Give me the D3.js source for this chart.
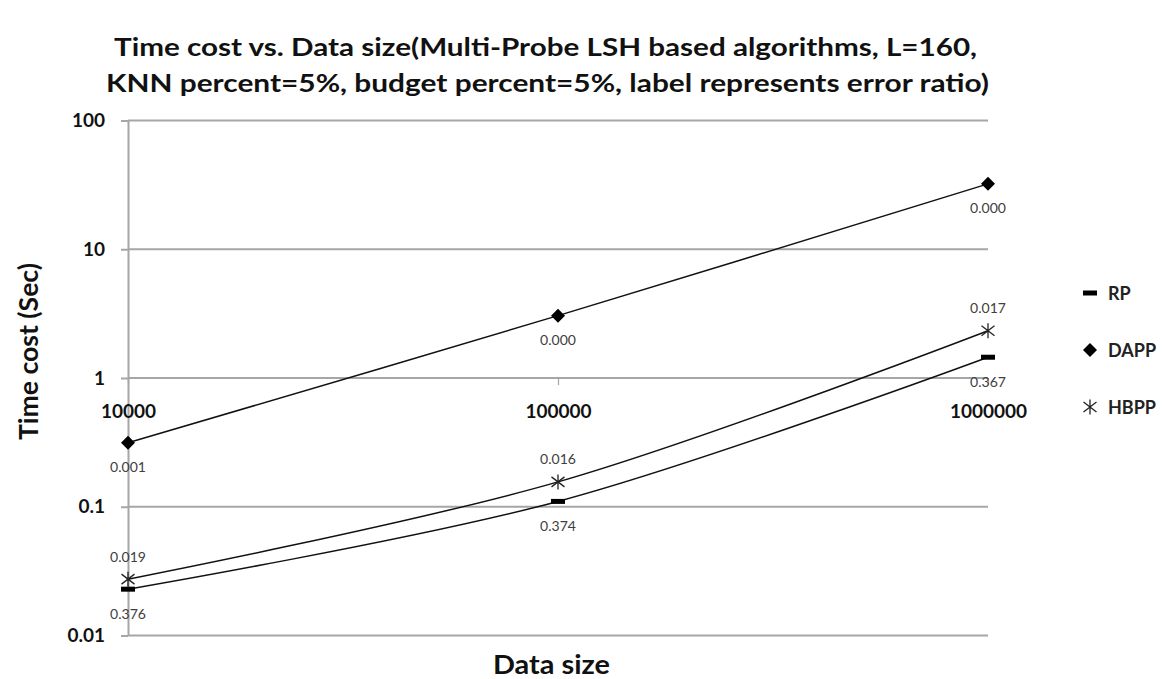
<!DOCTYPE html>
<html>
<head>
<meta charset="utf-8">
<script src="https://cdn.jsdelivr.net/npm/d3@7"></script>
<style>
  html, body { margin: 0; padding: 0; background: #fff; }
  svg { display: block; font-family: Lato, "Open Sans", sans-serif; }
</style>
</head>
<body>
<svg id="chart" width="1162" height="679"></svg>
<script>
// Data sizes on the x axis
const dataSizes = [10000, 100000, 1000000];
// Time cost in seconds for each algorithm
const rpTime   = [0.0229, 0.110, 1.45];
const dappTime = [0.314, 3.05, 32.2];
const hbppTime = [0.0274, 0.156, 2.33];
// Error ratio labels shown at each point
const rpError   = ["0.376", "0.374", "0.367"];
const dappError = ["0.001", "0.000", "0.000"];
const hbppError = ["0.019", "0.016", "0.017"];
// Axis ticks
const yTicks = [0.01, 0.1, 1, 10, 100];
const yTickLabels = ["0.01", "0.1", "1", "10", "100"];
const xTickLabels = ["10000", "100000", "1000000"];

const svg = d3.select("#chart");

const x = d3.scaleLog().domain([10000, 1000000]).range([128, 988]);
const y = d3.scaleLog().domain([0.01, 100]).range([635.5, 120.5]);

const gridColor = "#a6a6a6";

// Title
const title = svg.append("g").attr("font-weight", "bold").attr("fill", "#111").attr("font-size", 24);
title.append("text").attr("x", 114).attr("y", 56)
  .attr("textLength", 863).attr("lengthAdjust", "spacingAndGlyphs")
  .text("Time cost vs. Data size(Multi-Probe LSH based algorithms, L=160,");
title.append("text").attr("x", 106).attr("y", 92)
  .attr("textLength", 883).attr("lengthAdjust", "spacingAndGlyphs")
  .text("KNN percent=5%, budget percent=5%, label represents error ratio)");

// Horizontal gridlines
svg.append("g").selectAll("line").data(yTicks).join("line")
  .attr("x1", x.range()[0]).attr("x2", x.range()[1])
  .attr("y1", d => y(d)).attr("y2", d => y(d))
  .attr("stroke", gridColor).attr("stroke-width", 2);

// Y axis
const yAxis = d3.axisLeft(y).tickValues(yTicks)
  .tickFormat((d, i) => yTickLabels[i]).tickSize(7).tickSizeOuter(0).tickPadding(16);
const gy = svg.append("g").attr("transform", `translate(${x.range()[0]},0)`).call(yAxis);
gy.select(".domain").attr("stroke", gridColor).attr("stroke-width", 2);
gy.selectAll(".tick line").attr("stroke", gridColor).attr("stroke-width", 2);
gy.selectAll(".tick text").attr("font-size", 19).attr("font-weight", "bold")
  .attr("fill", "#111").attr("font-family", "Lato, sans-serif");

// X axis crossing at 1
const xAxis = d3.axisBottom(x).tickValues(dataSizes)
  .tickFormat((d, i) => xTickLabels[i]).tickSize(7).tickSizeOuter(0).tickPadding(20);
const gx = svg.append("g").attr("transform", `translate(0,${y(1)})`).call(xAxis);
gx.select(".domain").remove();
gx.selectAll(".tick line").attr("stroke", gridColor).attr("stroke-width", 1.2);
gx.selectAll(".tick text").attr("font-size", 19).attr("font-weight", "bold")
  .attr("fill", "#111").attr("font-family", "Lato, sans-serif");

// Axis titles
svg.append("text").attr("x", 493).attr("y", 674)
  .attr("font-size", 26).attr("font-weight", "bold").attr("fill", "#111")
  .attr("textLength", 117).attr("lengthAdjust", "spacingAndGlyphs").text("Data size");
svg.append("text").attr("transform", "translate(38,440) rotate(-90)")
  .attr("font-size", 26).attr("font-weight", "bold").attr("fill", "#111")
  .attr("textLength", 177).attr("lengthAdjust", "spacingAndGlyphs").text("Time cost (Sec)");

// Series
const series = [
  { name: "RP", values: rpTime, labels: rpError, marker: "dash", labelDy: 24 },
  { name: "DAPP", values: dappTime, labels: dappError, marker: "diamond", labelDy: 24 },
  { name: "HBPP", values: hbppTime, labels: hbppError, marker: "star", labelDy: -23 }
];

const line = d3.line()
  .x((d, i) => x(dataSizes[i]))
  .y(d => y(d))
  .curve(d3.curveCatmullRom.alpha(0.5));

function drawMarker(g, type) {
  if (type === "dash") {
    g.append("rect").attr("x", -7).attr("y", -2.5).attr("width", 14).attr("height", 5).attr("fill", "#000");
  } else if (type === "diamond") {
    g.append("path").attr("d", "M0,-7L7,0L0,7L-7,0Z").attr("fill", "#000");
  } else {
    g.append("path").attr("d", "M0,-7.5L0,7.5M-6.5,-5L6.5,5M-6.5,5L6.5,-5")
      .attr("stroke", "#222").attr("stroke-width", 1.3).attr("fill", "none");
  }
}

series.forEach(s => {
  svg.append("path").datum(s.values).attr("d", line)
    .attr("fill", "none").attr("stroke", "#111").attr("stroke-width", 1.5);
  s.values.forEach((v, i) => {
    const g = svg.append("g").attr("transform", `translate(${x(dataSizes[i])},${y(v)})`);
    drawMarker(g, s.marker);
    svg.append("text").attr("x", x(dataSizes[i])).attr("y", y(v) + s.labelDy)
      .attr("text-anchor", "middle").attr("dominant-baseline", "central")
      .attr("font-size", 14).attr("fill", "#404040").text(s.labels[i]);
  });
});

// Legend
const legend = svg.append("g");
series.forEach((s, i) => {
  const g = legend.append("g").attr("transform", `translate(1090,${293 + i * 57})`);
  drawMarker(g, s.marker);
  g.append("text").attr("x", 18).attr("y", 0).attr("dominant-baseline", "central")
    .attr("font-size", 18).attr("font-weight", "bold").attr("fill", "#222").text(s.name);
});
</script>
</body>
</html>
